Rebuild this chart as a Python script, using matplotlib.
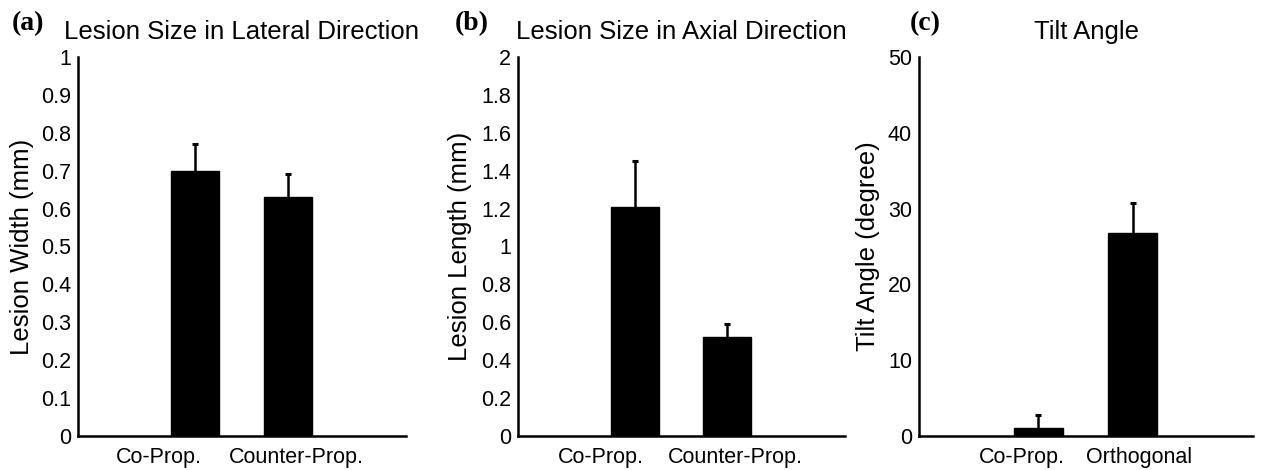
import matplotlib
matplotlib.use("Agg")
import matplotlib.pyplot as plt
from matplotlib.transforms import ScaledTranslation

plt.rcParams['font.family'] = ['Liberation Sans', 'DejaVu Sans']

# Data
cats_a = ["Co-Prop.", "Counter-Prop."]
width_mean = [0.70, 0.63]
width_err = [0.07, 0.06]

cats_b = ["Co-Prop.", "Counter-Prop."]
length_mean = [1.21, 0.52]
length_err = [0.24, 0.07]

cats_c = ["Co-Prop.", "Orthogonal"]
tilt_mean = [1.0, 26.8]
tilt_err = [1.8, 3.9]

panels = [
    dict(cats=cats_a, vals=width_mean, errs=width_err, ymax=1.0,
         yticks=[0, 0.1, 0.2, 0.3, 0.4, 0.5, 0.6, 0.7, 0.8, 0.9, 1],
         yticklabels=["0", "0.1", "0.2", "0.3", "0.4", "0.5", "0.6", "0.7", "0.8", "0.9", "1"],
         ylabel="Lesion Width (mm)", title="Lesion Size in Lateral Direction", tag="(a)",
         rect=[78, 406], ylabx=22, tagx=12, lab_shift=[-36, 8]),
    dict(cats=cats_b, vals=length_mean, errs=length_err, ymax=2.0,
         yticks=[0, 0.2, 0.4, 0.6, 0.8, 1.0, 1.2, 1.4, 1.6, 1.8, 2.0],
         yticklabels=["0", "0.2", "0.4", "0.6", "0.8", "1", "1.2", "1.4", "1.6", "1.8", "2"],
         ylabel="Lesion Length (mm)", title="Lesion Size in Axial Direction", tag="(b)",
         rect=[518, 845], ylabx=460, tagx=455, lab_shift=[-34, 8]),
    dict(cats=cats_c, vals=tilt_mean, errs=tilt_err, ymax=50,
         yticks=[0, 10, 20, 30, 40, 50],
         yticklabels=["0", "10", "20", "30", "40", "50"],
         ylabel="Tilt Angle (degree)", title="Tilt Angle", tag="(c)",
         rect=[919, 1253], ylabx=868, tagx=910, lab_shift=[-16, 6]),
]

W, H = 1264, 470
fig = plt.figure(figsize=(W / 100, H / 100), dpi=100)

y_bottom_px = 436
y_top_px = 57

for p in panels:
    x0, x1 = p["rect"]
    ax = fig.add_axes([x0 / W, (H - y_bottom_px) / H, (x1 - x0) / W, (y_bottom_px - y_top_px) / H])
    pos = [1, 2]
    ax.bar(pos, p["vals"], width=0.52, color="black", edgecolor="black", zorder=2)
    eb = ax.errorbar(pos, p["vals"], yerr=[[0, 0], p["errs"]], fmt="none", ecolor="black",
                     elinewidth=1.8, capsize=2.5, capthick=2.2, zorder=3)
    caps = eb[1]
    if len(caps) == 2:
        caps[0].set_visible(False)
    ax.set_xlim(-0.26, 3.27)
    ax.set_ylim(0, p["ymax"])
    ax.set_yticks(p["yticks"])
    ax.set_yticklabels(p["yticklabels"])
    ax.set_xticks(pos)
    ax.set_xticklabels(p["cats"])
    ax.tick_params(axis="both", length=0, labelsize=15.5)
    ax.tick_params(axis="y", pad=5)
    ax.tick_params(axis="x", pad=8)
    for lab, dx in zip(ax.get_xticklabels(), p["lab_shift"]):
        lab.set_transform(lab.get_transform() + ScaledTranslation(dx / 100, 0, fig.dpi_scale_trans))
    for s in ["top", "right"]:
        ax.spines[s].set_visible(False)
    for s in ["left", "bottom"]:
        ax.spines[s].set_linewidth(1.8)
    fig.text(p["ylabx"] / W, 1 - ((y_bottom_px + y_top_px) / 2) / H, p["ylabel"],
             rotation=90, ha="center", va="center", fontsize=18.5)
    fig.text((x0 + x1) / 2 / W, 1 - 39 / H, p["title"], ha="center", va="baseline", fontsize=18.5)
    fig.text(p["tagx"] / W, 1 - 24 / H, p["tag"], ha="left", va="center", fontsize=20,
             fontweight="bold", family=["Liberation Serif", "DejaVu Serif"])

fig.savefig("out.png", dpi=100)
